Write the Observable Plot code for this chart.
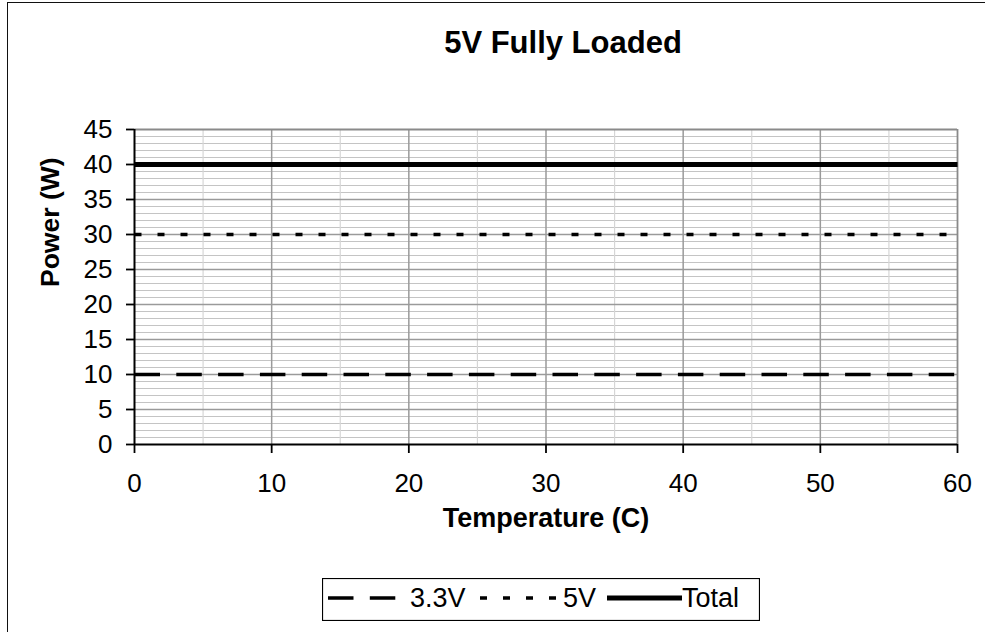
<!DOCTYPE html>
<html>
<head>
<meta charset="utf-8">
<script src="https://cdn.jsdelivr.net/npm/d3@7"></script>
<script src="https://cdn.jsdelivr.net/npm/@observablehq/plot@0.6"></script>
<style>
  html, body { margin: 0; padding: 0; background: #fff; }
  #wrap { position: relative; width: 985px; height: 632px; overflow: hidden; background: #fff;
          font-family: "Liberation Sans", Arial, sans-serif; }
  #frame { position: absolute; left: 7px; top: 2px; width: 2000px; height: 2000px;
           border: 1.5px solid #111; box-sizing: border-box; }
  #chart { position: absolute; left: 0; top: 0; }
  #legend { position: absolute; left: 322px; top: 578px; }
</style>
</head>
<body>
<div id="wrap">
  <div id="frame"></div>
  <div id="chart"></div>
  <div id="legend"></div>
</div>
<script>
// ---- data ----
const temps = [0, 10, 20, 30, 40, 50, 60];
const power33 = [10, 10, 10, 10, 10, 10, 10];
const power5 = [30, 30, 30, 30, 30, 30, 30];
const powerTotal = [40, 40, 40, 40, 40, 40, 40];
const seriesNames = ["3.3V", "5V", "Total"];
const xTicks = [0, 10, 20, 30, 40, 50, 60];
const yTicks = [0, 5, 10, 15, 20, 25, 30, 35, 40, 45];
const xMinorGrid = [5, 15, 25, 35, 45, 55];
const xMajorGrid = [10, 20, 30, 40, 50];
const yMajorGrid = [5, 10, 15, 20, 25, 30, 35, 40];
const yMinorGrid = d3.range(1, 45).filter(v => v % 5 !== 0);
const titleText = "5V Fully Loaded";
const xLabel = "Temperature (C)";
const yLabel = "Power (W)";

const rows = temps.map((t, i) => ({t, v33: power33[i], v5: power5[i], vt: powerTotal[i]}));

const styles = {
  "3.3V": {strokeWidth: 3.5, dash: "25.5,16.3"},
  "5V": {strokeWidth: 3.6, dash: "7,16"},
  "Total": {strokeWidth: 5, dash: null}
};
const keys = {"3.3V": "v33", "5V": "v5", "Total": "vt"};

const font = "Liberation Sans, Arial, sans-serif";

const chart = Plot.plot({
  width: 985,
  height: 560,
  marginTop: 129,
  marginBottom: 116,
  marginLeft: 134,
  marginRight: 28,
  x: {domain: [0, 60]},
  y: {domain: [0, 45]},
  style: {fontFamily: font, background: "transparent", overflow: "visible", color: "#000"},
  marks: [
    Plot.ruleY(yMinorGrid, {stroke: "#c4c4c4", strokeWidth: 1}),
    Plot.ruleX(xMinorGrid, {stroke: "#d6d6d6", strokeWidth: 1.2}),
    Plot.ruleY(yMajorGrid, {stroke: "#9a9a9a", strokeWidth: 1.5}),
    Plot.ruleX(xMajorGrid, {stroke: "#9a9a9a", strokeWidth: 1.5}),
    Plot.ruleY([45], {stroke: "#8a8a8a", strokeWidth: 1.8}),
    Plot.ruleX([60], {stroke: "#8a8a8a", strokeWidth: 1.8}),
    ...seriesNames.map(name => Plot.line(rows, {
      x: "t", y: keys[name], stroke: "#000",
      strokeWidth: styles[name].strokeWidth,
      strokeDasharray: styles[name].dash,
      strokeLinecap: "butt"
    })),
    Plot.ruleX([0], {stroke: "#000", strokeWidth: 2}),
    Plot.ruleY([0], {stroke: "#000", strokeWidth: 2}),
    Plot.axisX({ticks: xTicks, tickSize: 9, tickPadding: 20, fontSize: 26, label: null, strokeWidth: 1.8}),
    Plot.axisY({ticks: yTicks, tickSize: 8, tickPadding: 14, fontSize: 26, label: null, strokeWidth: 1.8}),
    Plot.text([titleText], {text: d => d, frameAnchor: "top", lineAnchor: "middle", dx: 17, dy: -86, fontSize: 31, fontWeight: "bold"}),
    Plot.text([xLabel], {text: d => d, frameAnchor: "bottom", lineAnchor: "middle", dy: 74, fontSize: 27, fontWeight: "bold"}),
    Plot.text([yLabel], {text: d => d, frameAnchor: "left", lineAnchor: "middle", dx: -84, rotate: -90, fontSize: 26.5, fontWeight: "bold"})
  ]
});
document.getElementById("chart").appendChild(chart);

// ---- legend ----
const legendW = 438, legendH = 43;
const lsvg = d3.select("#legend").append("svg")
  .attr("width", legendW).attr("height", legendH)
  .style("font-family", font);
lsvg.append("rect").attr("x", 0.5).attr("y", 0.5).attr("width", legendW - 1).attr("height", legendH - 1)
  .attr("fill", "#fff").attr("stroke", "#000").attr("stroke-width", 1.2);
const legendItems = [
  {name: "3.3V", x1: 6, x2: 76, tx: 88},
  {name: "5V", x1: 158, x2: 241, tx: 241},
  {name: "Total", x1: 285, x2: 360, tx: 360}
];
legendItems.forEach(it => {
  lsvg.append("line").attr("x1", it.x1).attr("x2", it.x2).attr("y1", 20).attr("y2", 20)
    .attr("stroke", "#000").attr("stroke-width", styles[it.name].strokeWidth)
    .attr("stroke-dasharray", styles[it.name].dash).attr("stroke-linecap", "butt");
  lsvg.append("text").attr("x", it.tx).attr("y", 20).attr("dy", "0.35em")
    .attr("font-size", 27).text(it.name);
});
</script>
</body>
</html>
